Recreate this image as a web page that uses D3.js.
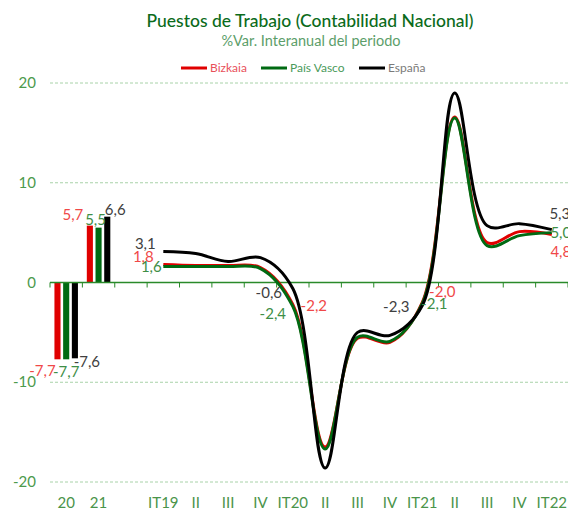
<!DOCTYPE html>
<html><head><meta charset="utf-8">
<script src="https://cdn.jsdelivr.net/npm/d3@7"></script>
<style>body{margin:0;background:#fff} svg{font-family:Lato, "Open Sans", sans-serif}</style>
</head><body><svg id="c" width="568" height="512"></svg>
<script>
// ---- data ----
const categories = ["20","21","","IT19","II","III","IV","IT20","II","III","IV","IT21","II","III","IV","IT22"];
const seriesNames = ["Bizkaia","País Vasco","España"];
const annualYears = ["20","21"];
const bizkaiaAnnual = [-7.7, 5.7];
const paisVascoAnnual = [-7.7, 5.5];
const espanaAnnual = [-7.6, 6.6];
const quarters = ["IT19","II","III","IV","IT20","II","III","IV","IT21","II","III","IV","IT22"];
const bizkaiaQ = [1.8, 1.7, 1.7, 1.5, -2.2, -16.5, -5.6, -6.0, -2.0, 16.6, 4.0, 5.1, 4.8];
const paisVascoQ = [1.6, 1.6, 1.6, 1.4, -2.4, -16.7, -5.5, -5.9, -2.1, 16.5, 3.7, 4.7, 5.0];
const espanaQ = [3.1, 2.9, 2.1, 2.5, -0.6, -18.6, -5.0, -5.3, -2.3, 19.0, 5.7, 5.9, 5.3];
const yTicks = [-20, -10, 0, 10, 20];
const labeledQuarterIdx = [0, 4, 8, 12];

// ---- styles ----
const lineColors = ["#e00000", "#006a12", "#000000"];
const labelColors = ["#f04848", "#3e8e46", "#404040"];
const legendTextColors = ["#e8505a", "#4a9a5a", "#7a7a7a"];
// label offsets [series][labelled point] -> [dx, dy]
const annualLabelOff = [
  [[-15, 17], [-17, -6]],
  [[0, 18], [-3, -3]],
  [[12, 9], [8, -2]]
];
const quarterLabelOff = [
  [[-20, -3], [21, 7], [20, -5], [9, 22]],
  [[-12, 5], [-20, 13], [12, 6], [9, 5]],
  [[-18, -3], [-24, 10], [-26, 7], [8, -11]]
];

const fmt = v => d3.format(".1f")(v).replace("\u2212", "-").replace(".", ",");

const svg = d3.select("#c");
const x = d3.scaleBand().domain(d3.range(categories.length)).range([50, 568]);
const y = d3.scaleLinear().domain([-20, 20]).range([482, 83]);

// gridlines
svg.append("g").selectAll("line").data(yTicks.filter(t => t !== 0)).join("line")
  .attr("x1", 50).attr("x2", 568)
  .attr("y1", d => y(d)).attr("y2", d => y(d))
  .attr("stroke", "#a8d2a8").attr("stroke-width", 1).attr("stroke-dasharray", "3,2");

// y labels
svg.append("g").selectAll("text").data(yTicks).join("text")
  .attr("x", 36).attr("y", d => y(d) + 5).attr("text-anchor", "end")
  .attr("font-size", 15).attr("fill", "#4c9a4c").text(d => String(d));

// bars
const annualIdx = annualYears.map(a => categories.indexOf(a));
const annualData = [bizkaiaAnnual, paisVascoAnnual, espanaAnnual];
const xi = d3.scaleBand().domain(d3.range(3)).range([x.bandwidth()/2 - 11.75, x.bandwidth()/2 + 11.75]).paddingInner(0.3);
annualData.forEach((vals, s) => {
  svg.append("g").selectAll("rect").data(vals).join("rect")
    .attr("x", (d, i) => x(annualIdx[i]) + xi(s))
    .attr("width", xi.bandwidth())
    .attr("y", d => Math.min(y(d), y(0)))
    .attr("height", d => Math.abs(y(d) - y(0)))
    .attr("fill", lineColors[s]);
});

// zero axis
const zg = svg.append("g");
zg.append("line").attr("x1", 50).attr("x2", 568).attr("y1", y(0)).attr("y2", y(0))
  .attr("stroke", "#2a8a2a").attr("stroke-width", 1.5);
zg.selectAll("line.t").data(d3.range(categories.length + 1)).join("line").attr("class", "t")
  .attr("x1", d => 50 + d * x.step()).attr("x2", d => 50 + d * x.step())
  .attr("y1", y(0)).attr("y2", y(0) + 5)
  .attr("stroke", "#2a8a2a").attr("stroke-width", 1);

// x labels
svg.append("g").selectAll("text").data(categories).join("text")
  .attr("x", (d, i) => x(i) + x.bandwidth()/2).attr("y", 508)
  .attr("text-anchor", "middle").attr("font-size", 15).attr("fill", "#4a944a").text(d => d);

// lines
const qStart = categories.indexOf("IT19");
const qData = [bizkaiaQ, paisVascoQ, espanaQ];
const line = d3.line()
  .x((d, i) => x(qStart + i) + x.bandwidth()/2)
  .y(d => y(d))
  .curve(d3.curveCatmullRom.alpha(0.5));
qData.forEach((vals, s) => {
  svg.append("path").attr("d", line(vals)).attr("fill", "none")
    .attr("stroke", lineColors[s]).attr("stroke-width", 3).attr("stroke-linejoin", "round");
});

// bar labels
annualData.forEach((vals, s) => {
  vals.forEach((v, i) => {
    const [dx, dy] = annualLabelOff[s][i];
    svg.append("text")
      .attr("x", x(annualIdx[i]) + xi(s) + xi.bandwidth()/2 + dx)
      .attr("y", y(v) + dy).attr("text-anchor", "middle")
      .attr("font-size", 15).attr("fill", labelColors[s]).text(fmt(v));
  });
});

// line labels
qData.forEach((vals, s) => {
  labeledQuarterIdx.forEach((qi, k) => {
    const [dx, dy] = quarterLabelOff[s][k];
    svg.append("text")
      .attr("x", x(qStart + qi) + x.bandwidth()/2 + dx)
      .attr("y", y(vals[qi]) + dy).attr("text-anchor", "middle")
      .attr("font-size", 15).attr("fill", labelColors[s]).text(fmt(vals[qi]));
  });
});

// title
svg.append("text").attr("x", 310).attr("y", 27).attr("text-anchor", "middle")
  .attr("font-size", 17.5).attr("font-weight", 500).attr("fill", "#0b6b1b")
  .text("Puestos de Trabajo (Contabilidad Nacional)");
svg.append("text").attr("x", 311).attr("y", 46).attr("text-anchor", "middle")
  .attr("font-size", 14.5).attr("fill", "#5c9e6a")
  .text("%Var. Interanual del periodo");

// legend
const legX = [181, 261, 359];
seriesNames.forEach((n, s) => {
  svg.append("line").attr("x1", legX[s]).attr("x2", legX[s] + 26).attr("y1", 68).attr("y2", 68)
    .attr("stroke", lineColors[s]).attr("stroke-width", 3);
  svg.append("text").attr("x", legX[s] + 29).attr("y", 72).attr("font-size", 12)
    .attr("fill", legendTextColors[s]).text(n);
});
</script></body></html>
